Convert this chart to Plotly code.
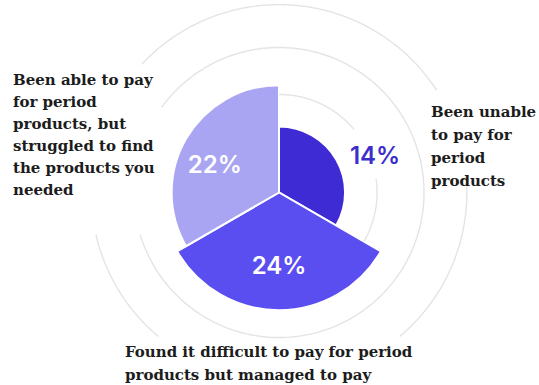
import numpy as np
import plotly.graph_objects as go

# Survey responses and their shares (%)
categories = [
    "Been unable to pay for period products",
    "Found it difficult to pay for period products but managed to pay",
    "Been able to pay for period products, but struggled to find the products you needed",
]
shares = [14, 24, 22]
share_text = [f"{v}%" for v in shares]
category_lines = [
    ["Been unable", "to pay for", "period", "products"],
    ["Found it difficult to pay for period", "products but managed to pay"],
    ["Been able to pay", "for period", "products, but", "struggled to find",
     "the products you", "needed"],
]

# Styling
bar_colors = ["#3f2bd3", "#5a4ef0", "#a9a5f2"]
share_font_colors = ["#3b2ecb", "white", "white"]
ring_color = "#e4e4e4"
text_color = "#1c1c1c"

W, H = 539, 385
R0, R1 = 1.2, 38.5          # radial axis range
sector = 360 / len(shares)
centers = [sector / 2 + i * sector for i in range(len(shares))]

fig = go.Figure()

# Decorative rings, broken where labels or wider sectors sit: (radius, [(start, end) degrees])
rings = [
    (20.2, [(0, 50), (82, 120)]),
    (29.3, [(-54, 253)]),
    (37.6, [(-47, 57), (88, 140), (220, 257)]),
]
for rad, arcs in rings:
    for a0, a1 in arcs:
        th = np.linspace(a0, a1, 200)
        fig.add_trace(go.Scatterpolar(
            r=np.full_like(th, rad), theta=th, mode="lines",
            line=dict(color=ring_color, width=1.4),
            hoverinfo="skip", showlegend=False,
        ))

fig.add_trace(go.Barpolar(
    r=[v - R0 for v in shares], base=R0, theta=centers, width=[sector] * len(shares),
    marker=dict(color=bar_colors, line=dict(color="white", width=2)),
    hovertext=categories, showlegend=False,
))

# Value labels placed inside (or just outside) each sector
label_r = [21.0, 15.9, 14.6]
label_theta = [70, 180, 292]
for i in range(len(shares)):
    fig.add_trace(go.Scatterpolar(
        r=[label_r[i]], theta=[label_theta[i]], mode="text",
        text=[share_text[i]],
        textfont=dict(family="Inter", size=24, color=share_font_colors[i], weight=600),
        hoverinfo="skip", showlegend=False,
    ))

cx, cy, rad_px = 279, 192.5, 192.5
fig.update_layout(
    width=W, height=H,
    margin=dict(l=0, r=0, t=0, b=0),
    paper_bgcolor="white",
    polar=dict(
        domain=dict(x=[(cx - rad_px) / W, (cx + rad_px) / W], y=[0, 1]),
        bgcolor="white",
        radialaxis=dict(range=[R0, R1], visible=False, showgrid=False),
        angularaxis=dict(rotation=90, direction="clockwise", visible=False, showgrid=False),
    ),
)

# Category captions, one annotation per line: (left x, first line centre y, line step)
serif = dict(family="DejaVu Serif", size=15, color=text_color, weight="bold")
label_pos = [(429, 112, 23), (123, 352, 23), (11, 80, 22)]
for lines, (px, py, step) in zip(category_lines, label_pos):
    for k, line in enumerate(lines):
        fig.add_annotation(
            text=line, xref="paper", yref="paper",
            x=px / W, y=1 - (py + k * step) / H, xanchor="left", yanchor="middle",
            align="left", showarrow=False, font=serif,
        )

fig.write_html("out.html")
